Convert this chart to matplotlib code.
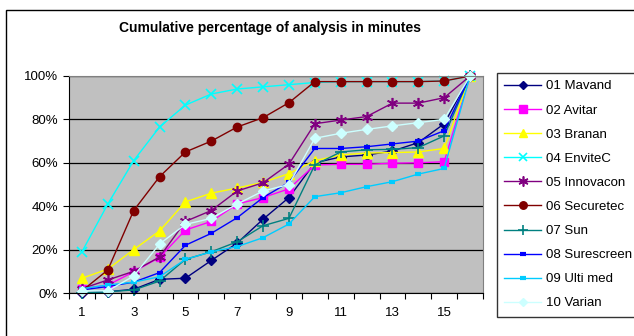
import matplotlib
matplotlib.use("Agg")
import matplotlib.pyplot as plt
from matplotlib.patches import Rectangle

plt.rcParams['font.family'] = ['Liberation Sans', 'DejaVu Sans']

categories = list(range(1, 17))
tick_labels = ['1', '', '3', '', '5', '', '7', '', '9', '', '11', '', '13', '', '15', '']
title = "Cumulative percentage of analysis in minutes"

mavand     = [0, 0.6, 1.7, 6.3, 6.8, 15, 23, 34, 44, 60, 62.7, 63.6, 65.4, 69.3, 78, 100]
avitar     = [2, 3.6, 9.8, 16.4, 29, 33, 41, 44, 48, 59, 59.3, 59.3, 59.8, 60, 60.5, 100]
branan     = [6.8, 11, 20, 28.6, 42, 46, 48.4, 51, 55, 61, 63.6, 64.5, 64.7, 65, 66.6, 100]
envitec    = [19, 41, 61, 76.5, 86.6, 91.7, 94, 95, 96, 97, 97.4, 97.4, 97.4, 97.4, 97.7, 100]
innovacon  = [2, 6, 10, 16.6, 33, 38, 47, 50.8, 59.4, 78, 79.7, 81.3, 87.5, 87.5, 90, 100]
securetec  = [1, 10.6, 38, 53.6, 65, 70, 76.5, 80.8, 87.7, 97.4, 97.4, 97.4, 97.4, 97.4, 97.7, 100]
sun        = [0, 0.6, 1.4, 5.5, 15.5, 19, 23.6, 31, 34.4, 59, 65, 66, 66.2, 67, 72.4, 100]
surescreen = [1.4, 3, 5, 9.4, 22, 27.5, 34.7, 44, 51, 66.6, 66.6, 67.4, 68.7, 70, 74.8, 100]
ultimed    = [2, 3.7, 5, 7.5, 15.5, 19, 21.4, 25.5, 31.8, 44.4, 46.2, 49, 51.3, 54.8, 57.4, 100]
varian     = [1, 1, 7.8, 22.6, 31.6, 34.4, 41, 47, 50, 71.3, 73.6, 75.4, 77, 78.5, 80, 100]

series_names = ['01 Mavand', '02 Avitar', '03 Branan', '04 EnviteC', '05 Innovacon',
                '06 Securetec', '07 Sun', '08 Surescreen', '09 Ulti med', '10 Varian']
series_values = [mavand, avitar, branan, envitec, innovacon, securetec, sun, surescreen, ultimed, varian]

styles = [
    dict(color='#000080', marker='D', ms=5),
    dict(color='#FF00FF', marker='s', ms=6),
    dict(color='#FFFF00', marker='^', ms=7),
    dict(color='#00FFFF', marker='x', ms=7, mew=1.2),
    dict(color='#800080', marker=(6, 2, 0), ms=8, mew=1.2),
    dict(color='#800000', marker='o', ms=6),
    dict(color='#008080', marker='+', ms=8, mew=1.2),
    dict(color='#0000FF', marker='_', ms=5, mew=3),
    dict(color='#00CCFF', marker='_', ms=5, mew=3),
    dict(color='#CCFFFF', marker='D', ms=5),
]

fig = plt.figure(figsize=(6.34, 3.36), dpi=100)
fig.patch.set_facecolor('white')

# outer chart border
fig.patches.append(Rectangle((6/634, -0.05), 1.0, (336-10)/336 + 0.05, transform=fig.transFigure,
                             fill=False, edgecolor='black', linewidth=1.0))

ax = fig.add_axes([69/634, 1-293/336, (483-69)/634, (293-76)/336])
ax.set_facecolor('#C0C0C0')

for name, vals, st in zip(series_names, series_values, styles):
    ax.plot(categories, vals, label=name, linewidth=1.0, color=st['color'], marker=st['marker'],
            markersize=st['ms'], markeredgewidth=st.get('mew', 1.0),
            markerfacecolor=st['color'], markeredgecolor=st['color'], clip_on=False)

ax.set_xlim(0.5, 16.5)
ax.set_ylim(0, 100)
ax.set_yticks([0, 20, 40, 60, 80, 100])
ax.set_yticklabels(['0%', '20%', '40%', '60%', '80%', '100%'], fontsize=9.5)
ax.yaxis.grid(True, color='black', linewidth=0.9)
ax.set_axisbelow(True)

ax.set_xticks([c - 0.5 for c in categories] + [16.5])
ax.set_xticklabels([])
ax.set_xticks(categories, minor=True)
ax.set_xticklabels(tick_labels, minor=True, fontsize=9.5)
ax.tick_params(axis='x', which='minor', length=0, pad=10)
ax.tick_params(axis='x', which='major', length=4, direction='out', color='black')
ax.tick_params(axis='y', length=4, direction='out', color='black', pad=4)

for s in ['top', 'right']:
    ax.spines[s].set_color('#808080')
for s in ['left', 'bottom']:
    ax.spines[s].set_color('black')

fig.text(270/634, 1-28/336, title, ha='center', va='center', fontsize=10, fontweight='bold')

leg = fig.legend(loc='upper left', bbox_to_anchor=(497/634, 1-73/336), fontsize=9.5,
                 frameon=True, fancybox=False, edgecolor='black', borderpad=0.55,
                 borderaxespad=0, labelspacing=0.9, handlelength=2.8, handletextpad=0.35,
                 markerscale=0.9)
leg.get_frame().set_linewidth(1.0)

fig.savefig('out.png', dpi=100)
